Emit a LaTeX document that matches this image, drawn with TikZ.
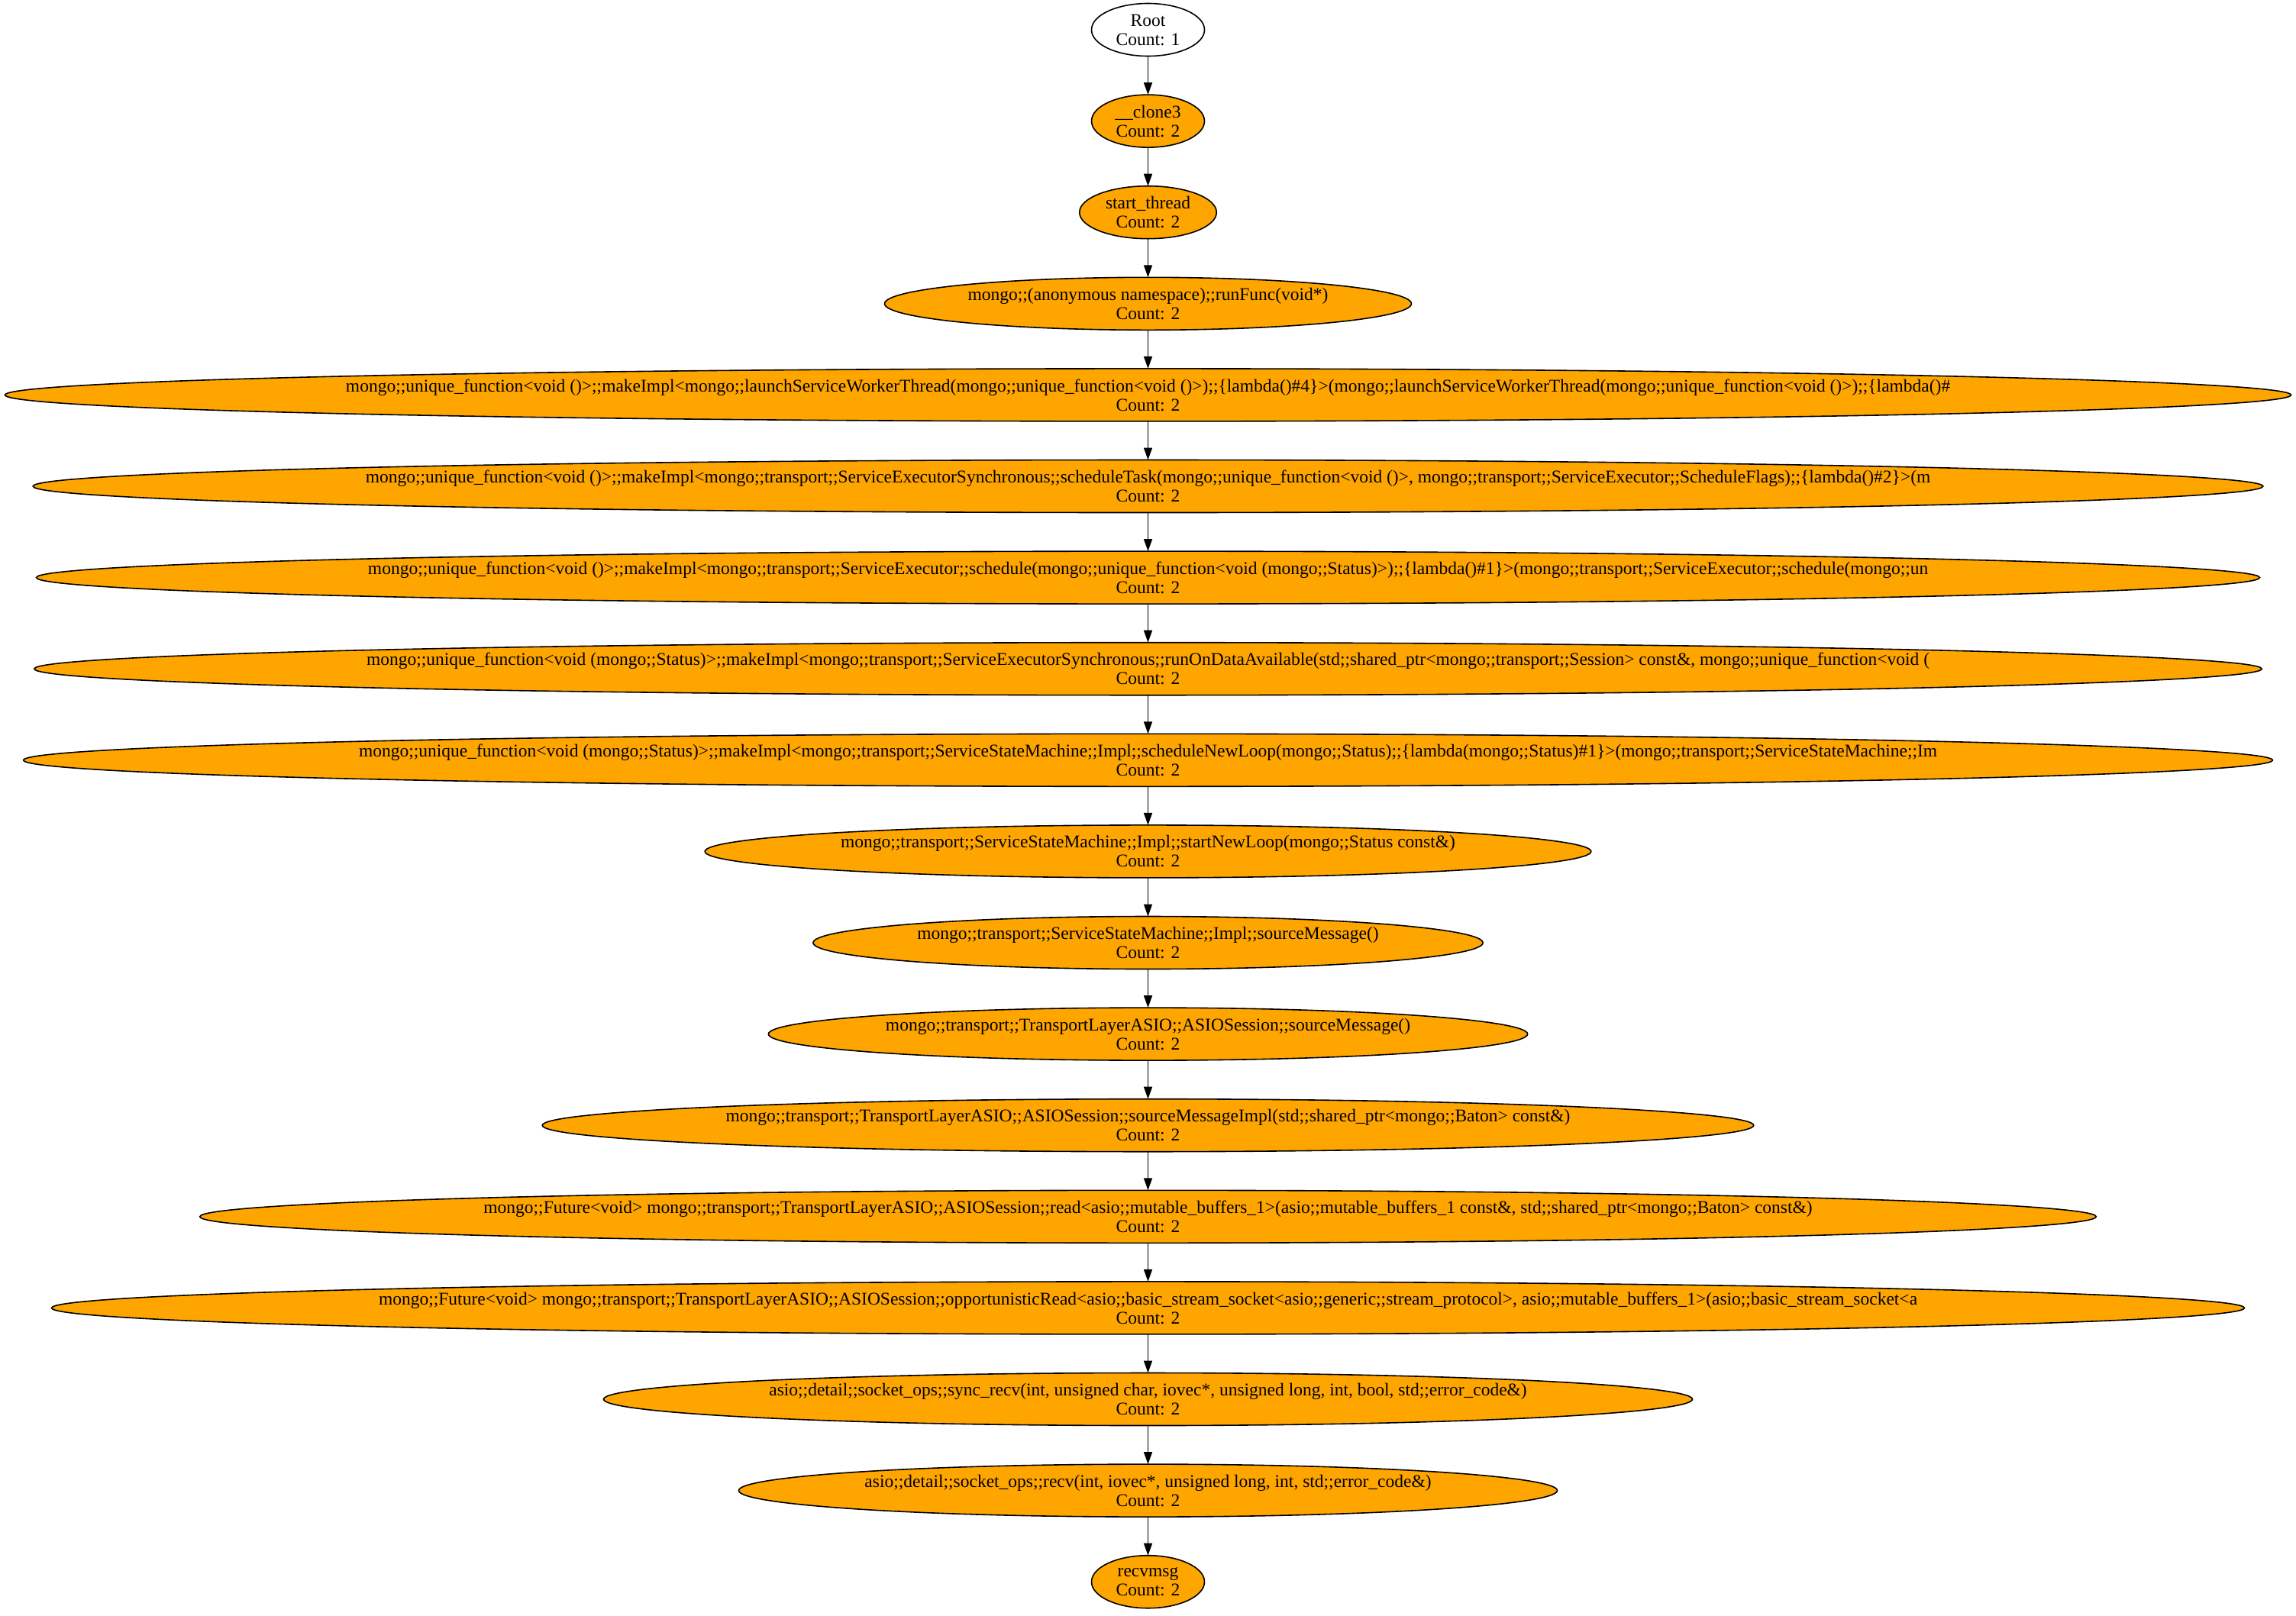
\documentclass[tikz,border=0pt]{standalone}
\usepackage{fontspec}
\setmainfont{Liberation Serif}
\usetikzlibrary{arrows.meta, positioning, shapes.geometric}
\usepackage{xcolor}
\definecolor{callfill}{RGB}{255, 165, 0}

\begin{document}
\begin{tikzpicture}[
            node distance=25.3pt,
            rootnode/.style={ellipse, draw, line width=0.8pt,
                          inner xsep=4pt, inner ysep=-4pt, outer sep=0pt,
                          minimum width=74pt, minimum height=34.5pt,
                          align=center, font=\fontsize{11.75}{12.5}\selectfont},
            callnode/.style={rootnode, fill=callfill},
            arrow/.style={-{Triangle[length=8pt, width=5.5pt]}, line width=0.8pt},
        ]
            \useasboundingbox (0,0) rectangle (1503.5pt,-1058pt);

            \node[rootnode] (root) at (751.75pt,-19.5pt) {Root\\Count: 1};
            \node[callnode, below=of root] (clone) {\_\_clone3\\Count: 2};
            \node[callnode, below=of clone] (startthread) {start\_thread\\Count: 2};
            \node[callnode, below=of startthread] (runfunc) {mongo;;(anonymous namespace);;runFunc(void*)\\Count: 2};
            \node[callnode, below=of runfunc] (launch) {mongo;;unique\_function<void ()>;;makeImpl<mongo;;launchServiceWorkerThread(mongo;;unique\_function<void ()>);;\{lambda()\#4\}>(mongo;;launchServiceWorkerThread(mongo;;unique\_function<void ()>);;\{lambda()\#\\Count: 2};
            \node[callnode, below=of launch] (scheduletask) {mongo;;unique\_function<void ()>;;makeImpl<mongo;;transport;;ServiceExecutorSynchronous;;scheduleTask(mongo;;unique\_function<void ()>, mongo;;transport;;ServiceExecutor;;ScheduleFlags);;\{lambda()\#2\}>(m\\Count: 2};
            \node[callnode, below=of scheduletask] (schedule) {mongo;;unique\_function<void ()>;;makeImpl<mongo;;transport;;ServiceExecutor;;schedule(mongo;;unique\_function<void (mongo;;Status)>);;\{lambda()\#1\}>(mongo;;transport;;ServiceExecutor;;schedule(mongo;;un\\Count: 2};
            \node[callnode, below=of schedule] (rundata) {mongo;;unique\_function<void (mongo;;Status)>;;makeImpl<mongo;;transport;;ServiceExecutorSynchronous;;runOnDataAvailable(std;;shared\_ptr<mongo;;transport;;Session> const\&, mongo;;unique\_function<void (\\Count: 2};
            \node[callnode, below=of rundata] (newloop) {mongo;;unique\_function<void (mongo;;Status)>;;makeImpl<mongo;;transport;;ServiceStateMachine;;Impl;;scheduleNewLoop(mongo;;Status);;\{lambda(mongo;;Status)\#1\}>(mongo;;transport;;ServiceStateMachine;;Im\\Count: 2};
            \node[callnode, below=of newloop] (startloop) {mongo;;transport;;ServiceStateMachine;;Impl;;startNewLoop(mongo;;Status const\&)\\Count: 2};
            \node[callnode, below=of startloop] (ssmsource) {mongo;;transport;;ServiceStateMachine;;Impl;;sourceMessage()\\Count: 2};
            \node[callnode, below=of ssmsource] (asiosource) {mongo;;transport;;TransportLayerASIO;;ASIOSession;;sourceMessage()\\Count: 2};
            \node[callnode, below=of asiosource] (sourceimpl) {mongo;;transport;;TransportLayerASIO;;ASIOSession;;sourceMessageImpl(std;;shared\_ptr<mongo;;Baton> const\&)\\Count: 2};
            \node[callnode, below=of sourceimpl] (asioread) {mongo;;Future<void> mongo;;transport;;TransportLayerASIO;;ASIOSession;;read<asio;;mutable\_buffers\_1>(asio;;mutable\_buffers\_1 const\&, std;;shared\_ptr<mongo;;Baton> const\&)\\Count: 2};
            \node[callnode, below=of asioread] (oppread) {mongo;;Future<void> mongo;;transport;;TransportLayerASIO;;ASIOSession;;opportunisticRead<asio;;basic\_stream\_socket<asio;;generic;;stream\_protocol>, asio;;mutable\_buffers\_1>(asio;;basic\_stream\_socket<a\\Count: 2};
            \node[callnode, below=of oppread] (syncrecv) {asio;;detail;;socket\_ops;;sync\_recv(int, unsigned char, iovec*, unsigned long, int, bool, std;;error\_code\&)\\Count: 2};
            \node[callnode, below=of syncrecv] (recv) {asio;;detail;;socket\_ops;;recv(int, iovec*, unsigned long, int, std;;error\_code\&)\\Count: 2};
            \node[callnode, below=of recv] (recvmsg) {recvmsg\\Count: 2};

            \draw[arrow] (root) -- (clone);
            \draw[arrow] (clone) -- (startthread);
            \draw[arrow] (startthread) -- (runfunc);
            \draw[arrow] (runfunc) -- (launch);
            \draw[arrow] (launch) -- (scheduletask);
            \draw[arrow] (scheduletask) -- (schedule);
            \draw[arrow] (schedule) -- (rundata);
            \draw[arrow] (rundata) -- (newloop);
            \draw[arrow] (newloop) -- (startloop);
            \draw[arrow] (startloop) -- (ssmsource);
            \draw[arrow] (ssmsource) -- (asiosource);
            \draw[arrow] (asiosource) -- (sourceimpl);
            \draw[arrow] (sourceimpl) -- (asioread);
            \draw[arrow] (asioread) -- (oppread);
            \draw[arrow] (oppread) -- (syncrecv);
            \draw[arrow] (syncrecv) -- (recv);
            \draw[arrow] (recv) -- (recvmsg);
        \end{tikzpicture}
\end{document}
